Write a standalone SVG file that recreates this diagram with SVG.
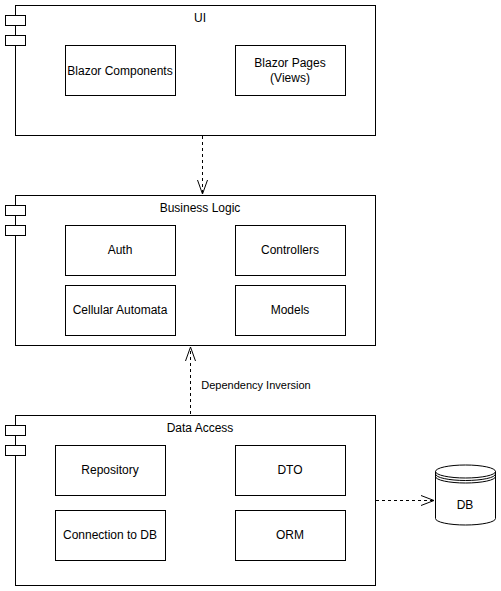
<svg xmlns="http://www.w3.org/2000/svg" width="501" height="591" viewBox="0 0 501 591">
<style>
.box{fill:#fff;stroke:#000;stroke-width:1}
.t{font-family:"Liberation Sans",Arial,sans-serif;font-size:12px;fill:#000;text-anchor:middle}
.dash{fill:none;stroke:#000;stroke-width:1;stroke-dasharray:3 3}
.head{fill:none;stroke:#000;stroke-width:1}
</style>
<rect width="501" height="591" fill="#fff"/>
<g id="ui">
<rect class="box" x="15.5" y="5.5" width="360" height="130"/>
<rect class="box" x="5.5" y="15.5" width="20" height="10"/>
<rect class="box" x="5.5" y="35.5" width="20" height="10"/>
<text class="t" x="200" y="22">UI</text>
</g>
<g id="blazor-components">
<rect class="box" x="65.5" y="45.5" width="110" height="50"/>
<text class="t" x="120" y="75">Blazor Components</text>
</g>
<g id="blazor-pages">
<rect class="box" x="235.5" y="45.5" width="110" height="50"/>
<text class="t" x="290" y="67">Blazor Pages</text>
<text class="t" x="290" y="82">(Views)</text>
</g>
<g id="business-logic">
<rect class="box" x="15.5" y="195.5" width="360" height="150"/>
<rect class="box" x="5.5" y="205.5" width="20" height="10"/>
<rect class="box" x="5.5" y="225.5" width="20" height="10"/>
<text class="t" x="200" y="212">Business Logic</text>
</g>
<g id="auth">
<rect class="box" x="65.5" y="225.5" width="110" height="50"/>
<text class="t" x="120" y="254">Auth</text>
</g>
<g id="cellular-automata">
<rect class="box" x="65.5" y="285.5" width="110" height="50"/>
<text class="t" x="120" y="314">Cellular Automata</text>
</g>
<g id="controllers">
<rect class="box" x="235.5" y="225.5" width="110" height="50"/>
<text class="t" x="290" y="254">Controllers</text>
</g>
<g id="models">
<rect class="box" x="235.5" y="285.5" width="110" height="50"/>
<text class="t" x="290" y="314">Models</text>
</g>
<g id="data-access">
<rect class="box" x="15.5" y="415.5" width="360" height="170"/>
<rect class="box" x="5.5" y="425.5" width="20" height="10"/>
<rect class="box" x="5.5" y="445.5" width="20" height="10"/>
<text class="t" x="200" y="432">Data Access</text>
</g>
<g id="repository">
<rect class="box" x="55.5" y="445.5" width="110" height="50"/>
<text class="t" x="110" y="474">Repository</text>
</g>
<g id="connection-to-db">
<rect class="box" x="55.5" y="510.5" width="110" height="50"/>
<text class="t" x="110" y="539">Connection to DB</text>
</g>
<g id="dto">
<rect class="box" x="235.5" y="445.5" width="110" height="50"/>
<text class="t" x="290" y="474">DTO</text>
</g>
<g id="orm">
<rect class="box" x="235.5" y="510.5" width="110" height="50"/>
<text class="t" x="290" y="539">ORM</text>
</g>
<g id="db">
<path class="box" d="M435.5,471.5 A30,6.5 0 0 1 495.5,471.5 L495.5,518.5 A30,6.5 0 0 1 435.5,518.5 Z"/>
<path class="head" d="M435.5,471.5 A30,6.5 0 0 0 495.5,471.5 M435.5,474 A30,6.5 0 0 0 495.5,474 M435.5,476.5 A30,6.5 0 0 0 495.5,476.5"/>
<text class="t" x="465" y="509">DB</text>
</g>
<g id="connectors">
<path class="dash" d="M202.5,136 L202.5,193"/>
<path class="head" d="M197.5,180 L202.5,194 L207.5,180"/>
<path class="dash" d="M190.5,414 L190.5,347"/>
<path class="head" d="M185.5,361 L190.5,347 L195.5,361"/>
<text class="t" x="256" y="389" style="font-size:11px">Dependency Inversion</text>
<path class="dash" d="M376,500.5 L433,500.5"/>
<path class="head" d="M421,495.5 L434,500.5 L421,505.5"/>
</g>
</svg>
